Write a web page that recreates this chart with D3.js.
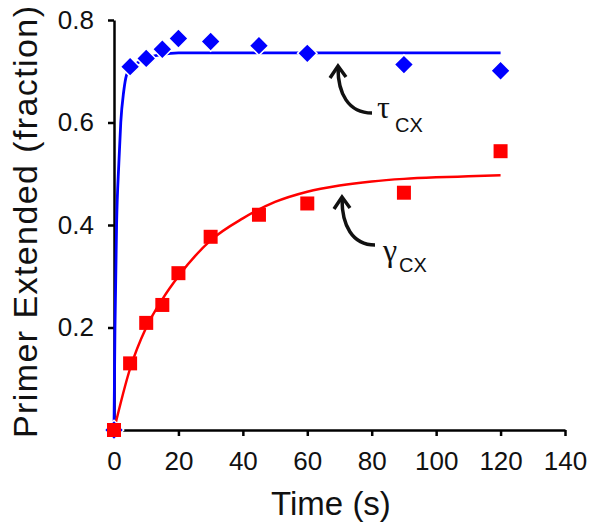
<!DOCTYPE html>
<html>
<head>
<meta charset="utf-8">
<script src="https://cdn.jsdelivr.net/npm/d3@7"></script>
<style>
  body { margin: 0; background: #fff; }
  svg { display: block; font-family: "Liberation Sans", Arial, sans-serif; }
</style>
</head>
<body>
<svg id="chart" width="600" height="530"></svg>
<script>
// ---- data ----
const times = [0, 5, 10, 15, 20, 30, 45, 60, 90, 120];
const tauValues = [0, 0.709, 0.725, 0.743, 0.764, 0.758, 0.750, 0.735, 0.713, 0.701];
const gammaValues = [0, 0.130, 0.209, 0.244, 0.306, 0.377, 0.420, 0.442, 0.463, 0.544];

const tauFitTimes = [0, 0.3, 0.8, 1.5, 2.1, 3, 3.9, 5, 7.5, 10, 15, 20, 120];
const tauFitValues = [0, 0.20, 0.40, 0.52, 0.60, 0.66, 0.693, 0.705, 0.717, 0.725, 0.733, 0.736, 0.736];
const gammaFitTimes = [0, 5, 10, 15, 20, 30, 40, 50, 60, 70, 80, 90, 100, 110, 120];
const gammaFitValues = [0, 0.12, 0.20, 0.255, 0.30, 0.37, 0.413, 0.445, 0.465, 0.477, 0.485, 0.490, 0.493, 0.495, 0.497];

const xTicks = [0, 20, 40, 60, 80, 100, 120, 140];
const yTicks = [0.2, 0.4, 0.6, 0.8];

// ---- layout ----
const svg = d3.select("#chart");
const x = d3.scaleLinear().domain([0, 140]).range([114, 565]);
const y = d3.scaleLinear().domain([0, 0.8]).range([430, 20]);

const blue = "#0000ff", red = "#ff0000";

// axes
const xAxis = svg.append("g").attr("transform", `translate(0,${y(0)})`)
  .call(d3.axisBottom(x).tickValues(xTicks).tickSize(6).tickPadding(16).tickSizeOuter(0));
const yAxis = svg.append("g").attr("transform", `translate(${x(0)},0)`)
  .call(d3.axisLeft(y).tickValues(yTicks).tickSize(6).tickPadding(14).tickSizeOuter(0).tickFormat(d3.format(".1f")));
[xAxis, yAxis].forEach(g => {
  g.select(".domain").attr("stroke", "#000").attr("stroke-width", 2.5);
  g.selectAll(".tick line").attr("stroke", "#000").attr("stroke-width", 2.5);
  g.selectAll(".tick text").attr("fill", "#111").style("font-size", "26px")
    .style("font-family", "'Liberation Sans', Arial, sans-serif");
});

// axis titles
svg.append("text").attr("x", 331).attr("y", 515).attr("text-anchor", "middle")
  .style("font-size", "33px").attr("fill", "#111").text("Time (s)");
svg.append("text").attr("transform", "translate(37,222) rotate(-90)").attr("text-anchor", "middle")
  .style("font-size", "34px").attr("textLength", 432).attr("lengthAdjust", "spacing")
  .attr("fill", "#111").text("Primer Extended (fraction)");

// fit curves
const line = d3.line().x(d => x(d[0])).y(d => y(d[1])).curve(d3.curveMonotoneX);
svg.append("path").datum(d3.zip(tauFitTimes, tauFitValues))
  .attr("d", line).attr("fill", "none").attr("stroke", blue).attr("stroke-width", 2.8);
svg.append("path").datum(d3.zip(gammaFitTimes, gammaFitValues))
  .attr("d", line).attr("fill", "none").attr("stroke", red).attr("stroke-width", 2.5);

// markers
const diamond = d3.symbol(d3.symbolSquare, 190)();
svg.append("g").selectAll("path").data(d3.zip(times, tauValues)).join("path")
  .attr("d", diamond)
  .attr("transform", d => `translate(${x(d[0])},${y(d[1])}) rotate(45)`)
  .attr("fill", blue).attr("stroke", "#fff").attr("stroke-width", 1.5);
const square = d3.symbol(d3.symbolSquare, 196)();
svg.append("g").selectAll("path").data(d3.zip(times, gammaValues)).join("path")
  .attr("d", square)
  .attr("transform", d => `translate(${x(d[0])},${y(d[1])})`)
  .attr("fill", red);

// annotations
function arrow(x0, y0, x1, y1) {
  svg.append("path")
    .attr("d", `M${x0},${y0} C${x1 + 10},${y0} ${x1},${y0 - 20} ${x1},${y1 + 2}`)
    .attr("fill", "none").attr("stroke", "#111").attr("stroke-width", 3.5);
  svg.append("path")
    .attr("d", `M${x1 - 8},${y1 + 12} L${x1},${y1} L${x1 + 8},${y1 + 11}`)
    .attr("fill", "none").attr("stroke", "#111").attr("stroke-width", 3.5).attr("stroke-linejoin", "miter");
}
arrow(372, 113, 338, 66);
arrow(375, 245, 342, 197);

function label(xg, yg, greek, xs, ys) {
  svg.append("text").attr("x", xg).attr("y", yg).style("font-size", "32px")
    .style("font-family", "'Liberation Serif', 'DejaVu Serif', serif").attr("fill", "#111").text(greek);
  svg.append("text").attr("x", xs).attr("y", ys).style("font-size", "20px").attr("fill", "#111").text("CX");
}
label(377, 118, "τ", 395, 132);
label(383, 261, "γ", 399, 272);
</script>
</body>
</html>
